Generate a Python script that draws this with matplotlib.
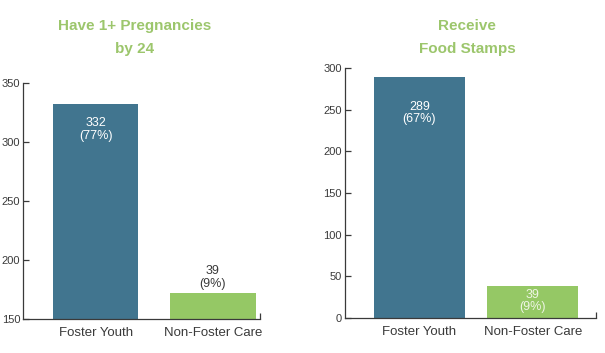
import matplotlib.pyplot as plt

# data
categories = ["Foster Youth", "Non-Foster Care"]
preg_heights = [332, 172]
preg_labels = ["332\n(77%)", "39\n(9%)"]
food_heights = [289, 39]
food_labels = ["289\n(67%)", "39\n(9%)"]

teal = "#41758f"
green = "#95c865"
title_green = "#9cc66c"
text_grey = "#3a3a3a"

plt.rcParams['font.family'] = ['Liberation Sans', 'DejaVu Sans']

fig = plt.figure(figsize=(6.05, 3.53), dpi=100)

ax1 = fig.add_axes([0.038, 0.096, 0.392, 0.669])
ax2 = fig.add_axes([0.570, 0.099, 0.415, 0.708])


def style(ax, xlim, ylim, yticks):
    ax.set_xlim(*xlim)
    ax.set_ylim(*ylim)
    ax.set_yticks(yticks)
    ax.set_xticks(range(len(categories)))
    ax.set_xticklabels(categories, fontsize=9.5, color=text_grey)
    ax.tick_params(axis='x', length=0, pad=6)
    ax.tick_params(axis='y', direction='in', length=4, width=0.9,
                   labelsize=8, colors=text_grey, pad=2)
    # little end tick at the right of the x axis
    ax.set_xticks([xlim[1]], minor=True)
    ax.tick_params(axis='x', which='minor', direction='in', length=4,
                   width=0.9, color=text_grey)
    for s in ['top', 'right']:
        ax.spines[s].set_visible(False)
    for s in ['left', 'bottom']:
        ax.spines[s].set_color(text_grey)
        ax.spines[s].set_linewidth(0.9)


# left chart
ax1.bar(range(2), preg_heights, width=0.73, color=[teal, green])
style(ax1, (-0.62, 1.404), (150, 350), [150, 200, 250, 300, 350])
ax1.text(0, preg_heights[0] - 11, preg_labels[0], ha='center', va='top',
         color='white', fontsize=9, linespacing=1.05)
ax1.text(1, preg_heights[1] + 3, preg_labels[1], ha='center', va='bottom',
         color=text_grey, fontsize=9, linespacing=1.05)
fig.text(0.223, 0.894, "Have 1+ Pregnancies\nby 24", ha='center',
         va='center', color=title_green, fontsize=11, fontweight='bold',
         linespacing=1.85)

# right chart
ax2.bar(range(2), food_heights, width=0.80, color=[teal, green])
style(ax2, (-0.656, 1.555), (0, 300), [0, 50, 100, 150, 200, 250, 300])
ax2.text(0, food_heights[0] - 28, food_labels[0], ha='center', va='top',
         color='white', fontsize=9, linespacing=1.05)
ax2.text(1, food_heights[1] - 4, food_labels[1], ha='center', va='top',
         color='#eef5e4', fontsize=9, linespacing=1.05)
fig.text(0.772, 0.894, "Receive\nFood Stamps", ha='center',
         va='center', color=title_green, fontsize=11, fontweight='bold',
         linespacing=1.85)

fig.savefig("out.png", dpi=100)
